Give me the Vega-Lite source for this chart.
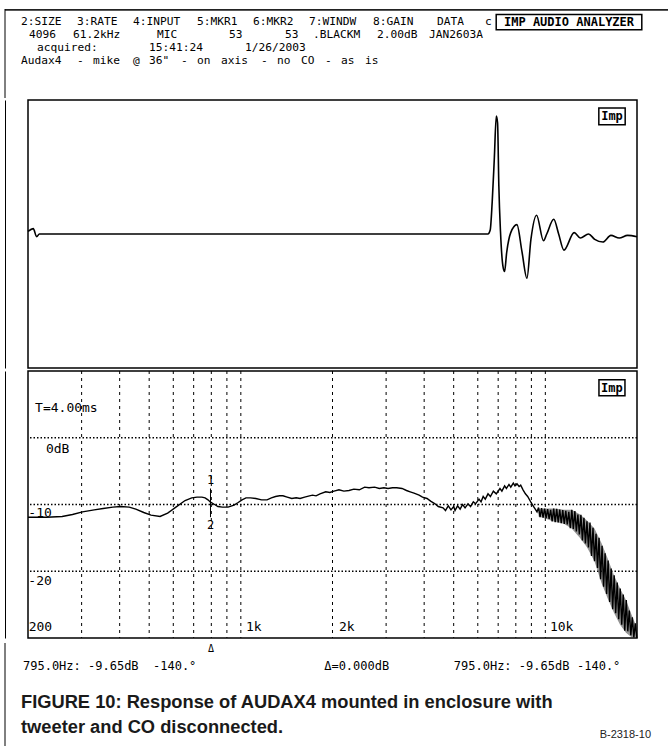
{
  "$schema": "https://vega.github.io/schema/vega-lite/v6.json",
  "background": "white",
  "padding": {"left": 4, "top": 0, "right": 0, "bottom": 0},
  "spacing": 0,
  "config": {
    "view": {"stroke": null},
    "font": "DejaVu Sans Mono"
  },
  "datasets": {
    "header": [
      {"col": 0, "row": 1, "label": "2:SIZE"},
      {"col": 7, "row": 1, "label": "3:RATE"},
      {"col": 14, "row": 1, "label": "4:INPUT"},
      {"col": 22, "row": 1, "label": "5:MKR1"},
      {"col": 29, "row": 1, "label": "6:MKR2"},
      {"col": 36, "row": 1, "label": "7:WINDW"},
      {"col": 44, "row": 1, "label": "8:GAIN"},
      {"col": 52, "row": 1, "label": "DATA"},
      {"col": 58, "row": 1, "label": "c"},
      {"col": 1, "row": 2, "label": "4096"},
      {"col": 6.5, "row": 2, "label": "61.2kHz"},
      {"col": 17, "row": 2, "label": "MIC"},
      {"col": 26, "row": 2, "label": "53"},
      {"col": 33, "row": 2, "label": "53"},
      {"col": 36.5, "row": 2, "label": ".BLACKM"},
      {"col": 44.5, "row": 2, "label": "2.00dB"},
      {"col": 51, "row": 2, "label": "JAN2603A"},
      {"col": 2, "row": 3, "label": "acquired:"},
      {"col": 16, "row": 3, "label": "15:41:24"},
      {"col": 28, "row": 3, "label": "1/26/2003"},
      {"col": 0, "row": 4, "label": "Audax4"},
      {"col": 7, "row": 4, "label": "-"},
      {"col": 9, "row": 4, "label": "mike"},
      {"col": 14, "row": 4, "label": "@"},
      {"col": 16, "row": 4, "label": "36\""},
      {"col": 20, "row": 4, "label": "-"},
      {"col": 22, "row": 4, "label": "on"},
      {"col": 25, "row": 4, "label": "axis"},
      {"col": 30, "row": 4, "label": "-"},
      {"col": 32, "row": 4, "label": "no"},
      {"col": 35, "row": 4, "label": "CO"},
      {"col": 38, "row": 4, "label": "-"},
      {"col": 40, "row": 4, "label": "as"},
      {"col": 43, "row": 4, "label": "is"}
    ],
    "headerBox": [
      {"c1": 59.4, "c2": 77.6, "r1": 0.42, "r2": 1.58, "cc": 68.5, "rc": 1, "label": "IMP AUDIO ANALYZER"}
    ],
    "anchorTop": [{"c1": -2, "c2": 81, "r": -0.611}],
    "frameTop": [{"c1": -2, "c2": 81, "r1": 0.0, "r2": 0.13}],
    "frameLeftHeader": [{"c": -2, "r1": 0, "r2": 6.794}],
    "frameLeftFooter": [{"c": -2, "r1": 0, "r2": 8.667}],
    "impulse": [
      {"t": 0, "v": 0.02}, {"t": 0.58, "v": 0.04}, {"t": 0.95, "v": -0.02}, {"t": 1.25, "v": 0.0},
      {"t": 10, "v": 0.0}, {"t": 20, "v": 0.0}, {"t": 30, "v": 0.0}, {"t": 40, "v": 0.0},
      {"t": 50.6, "v": 0.0}, {"t": 50.85, "v": 0.03}, {"t": 51.07, "v": 0.24}, {"t": 51.3, "v": 0.56},
      {"t": 51.52, "v": 0.88}, {"t": 51.66, "v": 0.83}, {"t": 51.8, "v": 0.36}, {"t": 51.98, "v": 0.02},
      {"t": 52.25, "v": -0.24}, {"t": 52.43, "v": -0.28}, {"t": 52.66, "v": -0.14}, {"t": 53.11, "v": 0.01},
      {"t": 53.79, "v": 0.07}, {"t": 54.34, "v": -0.13}, {"t": 54.89, "v": -0.33}, {"t": 55.33, "v": -0.04},
      {"t": 55.95, "v": 0.14}, {"t": 56.71, "v": -0.05}, {"t": 57.07, "v": 0.0}, {"t": 57.84, "v": 0.11},
      {"t": 58.38, "v": 0.0}, {"t": 58.96, "v": -0.12}, {"t": 60.09, "v": 0.01}, {"t": 60.76, "v": -0.03},
      {"t": 61.67, "v": 0.0}, {"t": 62.35, "v": -0.04}, {"t": 63.25, "v": -0.06}, {"t": 64.13, "v": -0.01},
      {"t": 65.05, "v": -0.03}, {"t": 65.96, "v": -0.01}, {"t": 67.0, "v": -0.02}
    ],
    "impBoxTop": [
      {"x1": 62.8, "x2": 65.7, "y1": 0.941, "y2": 0.815, "xc": 64.25, "yc": 0.878, "label": "Imp"}
    ],
    "impBoxBottom": [
      {"x1": 15000, "x2": 18260, "y1": 8.7, "y2": 6.3, "xc": 16550, "yc": 7.5, "label": "Imp"}
    ],
    "vgrid": [
      {"f": 300}, {"f": 400}, {"f": 500}, {"f": 600}, {"f": 700}, {"f": 800}, {"f": 900},
      {"f": 1000}, {"f": 2000}, {"f": 3000}, {"f": 4000}, {"f": 5000}, {"f": 6000},
      {"f": 7000}, {"f": 8000}, {"f": 9000}, {"f": 10000}
    ],
    "hgrid": [{"db": 0}, {"db": -10}, {"db": -20}],
    "labels": [
      {"f": 211, "db": 4.5, "label": "T=4.00ms"},
      {"f": 229, "db": -1.7, "label": "0dB"},
      {"f": 200.5, "db": -11.3, "label": "-10"},
      {"f": 200.5, "db": -21.4, "label": "-20"},
      {"f": 201, "db": -28.4, "label": "200"},
      {"f": 1040, "db": -28.4, "label": "1k"},
      {"f": 2100, "db": -28.4, "label": "2k"},
      {"f": 10356, "db": -28.4, "label": "10k"}
    ],
    "markers": [
      {"f": 795, "db": -6.4, "label": "1"},
      {"f": 795, "db": -13.1, "label": "2"}
    ],
    "cursor": [{"f": 795, "d1": -7.6, "d2": -11.9}],
    "band": [
      {"f": 9500, "lo": -11.8, "hi": -10.6}, {"f": 10000, "lo": -12.1, "hi": -10.6},
      {"f": 10700, "lo": -12.6, "hi": -10.6}, {"f": 11500, "lo": -12.9, "hi": -10.8},
      {"f": 12200, "lo": -13.6, "hi": -10.8}, {"f": 13000, "lo": -15.0, "hi": -11.5},
      {"f": 13700, "lo": -16.4, "hi": -12.4}, {"f": 14500, "lo": -18.5, "hi": -13.6},
      {"f": 15300, "lo": -21.8, "hi": -15.8}, {"f": 16000, "lo": -24.0, "hi": -18.0},
      {"f": 16800, "lo": -26.2, "hi": -20.6}, {"f": 17600, "lo": -28.0, "hi": -22.6},
      {"f": 18400, "lo": -29.2, "hi": -24.3}, {"f": 19200, "lo": -29.9, "hi": -26.5},
      {"f": 20000, "lo": -30.0, "hi": -28.5}
    ],
    "response": [
      {"f": 200, "db": -11.9}, {"f": 230, "db": -11.9}, {"f": 259, "db": -11.8}, {"f": 280, "db": -11.5},
      {"f": 302, "db": -11.1}, {"f": 330, "db": -10.8}, {"f": 353, "db": -10.6}, {"f": 380, "db": -10.4},
      {"f": 403, "db": -10.3}, {"f": 430, "db": -10.4}, {"f": 452, "db": -10.7}, {"f": 480, "db": -11.2},
      {"f": 507, "db": -11.6}, {"f": 543, "db": -11.8}, {"f": 575, "db": -11.3}, {"f": 612, "db": -10.4},
      {"f": 656, "db": -9.4}, {"f": 690, "db": -9.0}, {"f": 718, "db": -8.9}, {"f": 745, "db": -8.9},
      {"f": 763, "db": -9.0}, {"f": 780, "db": -9.3}, {"f": 795, "db": -9.65}, {"f": 820, "db": -10.0},
      {"f": 841, "db": -10.3}, {"f": 870, "db": -10.4}, {"f": 908, "db": -10.4}, {"f": 950, "db": -10.1},
      {"f": 980, "db": -9.7}, {"f": 1009, "db": -9.3}, {"f": 1040, "db": -9.0}, {"f": 1076, "db": -9.0},
      {"f": 1120, "db": -9.1}, {"f": 1170, "db": -9.3}, {"f": 1219, "db": -9.3}, {"f": 1260, "db": -9.0},
      {"f": 1300, "db": -8.8}, {"f": 1340, "db": -8.7}, {"f": 1375, "db": -8.7}, {"f": 1420, "db": -8.9},
      {"f": 1470, "db": -9.1}, {"f": 1520, "db": -9.0}, {"f": 1565, "db": -9.1}, {"f": 1620, "db": -8.9},
      {"f": 1680, "db": -8.7}, {"f": 1720, "db": -8.6}, {"f": 1766, "db": -8.7}, {"f": 1820, "db": -8.4},
      {"f": 1900, "db": -8.1}, {"f": 1960, "db": -8.2}, {"f": 2023, "db": -8.0}, {"f": 2100, "db": -7.8},
      {"f": 2180, "db": -8.0}, {"f": 2266, "db": -7.9}, {"f": 2350, "db": -7.7}, {"f": 2450, "db": -7.8},
      {"f": 2550, "db": -7.4}, {"f": 2636, "db": -7.5}, {"f": 2750, "db": -7.4}, {"f": 2850, "db": -7.6},
      {"f": 2950, "db": -7.5}, {"f": 3044, "db": -7.6}, {"f": 3150, "db": -7.5}, {"f": 3250, "db": -7.5},
      {"f": 3383, "db": -7.6}, {"f": 3500, "db": -7.9}, {"f": 3600, "db": -8.1}, {"f": 3705, "db": -8.3},
      {"f": 3850, "db": -8.6}, {"f": 3950, "db": -8.9}, {"f": 4087, "db": -9.1}, {"f": 4200, "db": -9.5},
      {"f": 4342, "db": -9.9}, {"f": 4450, "db": -10.3}, {"f": 4614, "db": -10.5}, {"f": 4700, "db": -10.9},
      {"f": 4800, "db": -10.2}, {"f": 4900, "db": -10.8}, {"f": 5000, "db": -10.3}, {"f": 5052, "db": -10.9},
      {"f": 5150, "db": -10.2}, {"f": 5250, "db": -10.7}, {"f": 5350, "db": -10.0}, {"f": 5450, "db": -10.5},
      {"f": 5572, "db": -9.9}, {"f": 5680, "db": -10.3}, {"f": 5800, "db": -9.6}, {"f": 5900, "db": -9.9},
      {"f": 6056, "db": -9.2}, {"f": 6150, "db": -9.6}, {"f": 6250, "db": -8.8}, {"f": 6350, "db": -9.2},
      {"f": 6483, "db": -8.4}, {"f": 6600, "db": -8.8}, {"f": 6750, "db": -8.0}, {"f": 6900, "db": -8.4},
      {"f": 7096, "db": -7.6}, {"f": 7200, "db": -8.0}, {"f": 7350, "db": -7.2}, {"f": 7450, "db": -7.6},
      {"f": 7597, "db": -7.0}, {"f": 7700, "db": -7.4}, {"f": 7850, "db": -6.8}, {"f": 7950, "db": -7.2},
      {"f": 8072, "db": -6.9}, {"f": 8200, "db": -7.3}, {"f": 8300, "db": -7.1}, {"f": 8448, "db": -7.8},
      {"f": 8600, "db": -8.4}, {"f": 8750, "db": -8.8}, {"f": 8975, "db": -9.7}, {"f": 9150, "db": -10.3},
      {"f": 9390, "db": -11.1},
      {"f": 9500, "db": -10.45}, {"f": 9609, "db": -11.9}, {"f": 9720, "db": -10.55}, {"f": 9832, "db": -11.95},
      {"f": 9945, "db": -10.6}, {"f": 10059, "db": -12.05}, {"f": 10175, "db": -10.7}, {"f": 10292, "db": -12.15},
      {"f": 10410, "db": -10.8}, {"f": 10530, "db": -12.55}, {"f": 10651, "db": -10.6}, {"f": 10774, "db": -12.65},
      {"f": 10898, "db": -10.65}, {"f": 11023, "db": -12.7}, {"f": 11150, "db": -10.75}, {"f": 11278, "db": -12.8},
      {"f": 11408, "db": -10.85}, {"f": 11539, "db": -12.9}, {"f": 11672, "db": -10.95}, {"f": 11806, "db": -13.0},
      {"f": 11942, "db": -11.1}, {"f": 12079, "db": -13.55}, {"f": 12218, "db": -10.8}, {"f": 12359, "db": -13.65},
      {"f": 12501, "db": -11.0}, {"f": 12645, "db": -14.05}, {"f": 12790, "db": -11.5}, {"f": 12937, "db": -14.5},
      {"f": 13086, "db": -11.55}, {"f": 13237, "db": -15.4}, {"f": 13389, "db": -12.0}, {"f": 13543, "db": -15.85},
      {"f": 13699, "db": -12.5}, {"f": 13856, "db": -16.45}, {"f": 14016, "db": -12.7}, {"f": 14177, "db": -17.7},
      {"f": 14340, "db": -13.5}, {"f": 14505, "db": -18.5}, {"f": 14672, "db": -14.4}, {"f": 14840, "db": -19.5},
      {"f": 15011, "db": -15.0}, {"f": 15184, "db": -21.2}, {"f": 15358, "db": -16.2}, {"f": 15535, "db": -22.3},
      {"f": 15714, "db": -17.3}, {"f": 15894, "db": -23.4}, {"f": 16077, "db": -18.4}, {"f": 16262, "db": -24.6},
      {"f": 16449, "db": -19.6}, {"f": 16638, "db": -25.7}, {"f": 16830, "db": -20.6}, {"f": 17023, "db": -26.3},
      {"f": 17219, "db": -21.7}, {"f": 17417, "db": -27.2}, {"f": 17617, "db": -22.6}, {"f": 17820, "db": -28.0},
      {"f": 18025, "db": -23.5}, {"f": 18232, "db": -28.9}, {"f": 18442, "db": -24.3}, {"f": 18654, "db": -29.0},
      {"f": 18868, "db": -25.9}, {"f": 19085, "db": -29.6}, {"f": 19305, "db": -26.9}, {"f": 19527, "db": -29.9},
      {"f": 19751, "db": -27.8}, {"f": 19978, "db": -30.0}
    ],
    "footMono": [
      {"col": 0.25, "row": 1.92, "label": "795.0Hz: -9.65dB"},
      {"col": 16.5, "row": 1.92, "label": "-140.°"},
      {"col": 37.9, "row": 1.92, "label": "Δ=0.000dB"},
      {"col": 54.1, "row": 1.92, "label": "795.0Hz: -9.65dB"},
      {"col": 69.5, "row": 1.92, "label": "-140.°"}
    ],
    "footTri": [{"col": 23.75, "row": 0.5, "label": "Δ"}],
    "caption": [
      {"col": 0, "row": 5.42, "label": "FIGURE 10: Response of AUDAX4 mounted in enclosure with"},
      {"col": 0, "row": 7.5, "label": "tweeter and CO disconnected."}
    ],
    "code": [{"col": 78.75, "row": 7.9, "label": "B-2318-10"}]
  },
  "vconcat": [
    {
      "width": 641,
      "height": 97,
      "layer": [
        {
          "data": {"name": "anchorTop"},
          "mark": {"type": "rule", "color": "white", "strokeWidth": 1},
          "encoding": {
            "x": {"field": "c1", "type": "quantitative", "scale": {"domain": [0.875, 81], "nice": false, "zero": false}, "axis": null},
            "x2": {"field": "c2"},
            "y": {"field": "r", "type": "quantitative", "scale": {"domain": [-0.611, 6.794], "nice": false, "zero": false, "reverse": true}, "axis": null}
          }
        },
        {
          "data": {"name": "frameTop"},
          "mark": {"type": "rect", "color": "#222222", "opacity": 1},
          "encoding": {
            "x": {"field": "c1", "type": "quantitative", "scale": {"domain": [0.875, 81], "nice": false, "zero": false}, "axis": null},
            "x2": {"field": "c2"},
            "y": {"field": "r1", "type": "quantitative", "scale": {"domain": [-0.611, 6.794], "nice": false, "zero": false, "reverse": true}, "axis": null},
            "y2": {"field": "r2"}
          }
        },
        {
          "data": {"name": "frameLeftHeader"},
          "mark": {"type": "rule", "color": "black", "strokeWidth": 1},
          "encoding": {
            "x": {"field": "c", "type": "quantitative", "scale": {"domain": [0.875, 81], "nice": false, "zero": false}, "axis": null},
            "y": {"field": "r1", "type": "quantitative", "scale": {"domain": [-0.611, 6.794], "nice": false, "zero": false, "reverse": true}, "axis": null},
            "y2": {"field": "r2"}
          }
        },
        {
          "data": {"name": "header"},
          "mark": {"type": "text", "align": "left", "baseline": "middle", "font": "DejaVu Sans Mono", "fontSize": 11.2, "color": "black"},
          "encoding": {
            "x": {"field": "col", "type": "quantitative", "scale": {"domain": [0.875, 81], "nice": false, "zero": false}, "axis": null},
            "y": {"field": "row", "type": "quantitative", "scale": {"domain": [-0.611, 6.794], "nice": false, "zero": false, "reverse": true}, "axis": null},
            "text": {"field": "label"}
          }
        },
        {
          "data": {"name": "headerBox"},
          "mark": {"type": "rect", "fill": null, "stroke": "black", "strokeWidth": 1.5},
          "encoding": {
            "x": {"field": "c1", "type": "quantitative", "scale": {"domain": [0.875, 81], "nice": false, "zero": false}, "axis": null},
            "x2": {"field": "c2"},
            "y": {"field": "r1", "type": "quantitative", "scale": {"domain": [-0.611, 6.794], "nice": false, "zero": false, "reverse": true}, "axis": null},
            "y2": {"field": "r2"}
          }
        },
        {
          "data": {"name": "headerBox"},
          "mark": {"type": "text", "align": "center", "baseline": "middle", "font": "DejaVu Sans Mono", "fontSize": 12, "fontWeight": "bold", "color": "black"},
          "encoding": {
            "x": {"field": "cc", "type": "quantitative", "scale": {"domain": [0.875, 81], "nice": false, "zero": false}, "axis": null},
            "y": {"field": "rc", "type": "quantitative", "scale": {"domain": [-0.611, 6.794], "nice": false, "zero": false, "reverse": true}, "axis": null},
            "text": {"field": "label"}
          }
        }
      ]
    },
    {
      "width": 609,
      "height": 268,
      "view": {"stroke": "black", "strokeWidth": 1.5},
      "layer": [
        {
          "data": {"name": "impulse"},
          "mark": {"type": "line", "color": "black", "strokeWidth": 1.6, "interpolate": "monotone"},
          "encoding": {
            "x": {"field": "t", "type": "quantitative", "scale": {"domain": [0, 67], "nice": false, "zero": false}, "axis": null},
            "y": {"field": "v", "type": "quantitative", "scale": {"domain": [-1, 1], "nice": false, "zero": false},
                  "axis": {"orient": "left", "offset": 23, "domain": true, "domainColor": "black", "domainWidth": 1, "labels": false, "ticks": false, "grid": false, "title": null, "minExtent": 0, "maxExtent": 0}}
          }
        },
        {
          "data": {"name": "impBoxTop"},
          "mark": {"type": "rect", "fill": "white", "stroke": "black", "strokeWidth": 1.5},
          "encoding": {
            "x": {"field": "x1", "type": "quantitative", "scale": {"domain": [0, 67], "nice": false, "zero": false}, "axis": null},
            "x2": {"field": "x2"},
            "y": {"field": "y1", "type": "quantitative", "scale": {"domain": [-1, 1], "nice": false, "zero": false},
                  "axis": {"orient": "left", "offset": 23, "domain": true, "domainColor": "black", "domainWidth": 1, "labels": false, "ticks": false, "grid": false, "title": null, "minExtent": 0, "maxExtent": 0}},
            "y2": {"field": "y2"}
          }
        },
        {
          "data": {"name": "impBoxTop"},
          "mark": {"type": "text", "align": "center", "baseline": "middle", "font": "DejaVu Sans Mono", "fontSize": 12, "fontWeight": "bold", "color": "black"},
          "encoding": {
            "x": {"field": "xc", "type": "quantitative", "scale": {"domain": [0, 67], "nice": false, "zero": false}, "axis": null},
            "y": {"field": "yc", "type": "quantitative", "scale": {"domain": [-1, 1], "nice": false, "zero": false},
                  "axis": {"orient": "left", "offset": 23, "domain": true, "domainColor": "black", "domainWidth": 1, "labels": false, "ticks": false, "grid": false, "title": null, "minExtent": 0, "maxExtent": 0}},
            "text": {"field": "label"}
          }
        }
      ]
    },
    {
      "width": 609,
      "height": 267,
      "view": {"stroke": "black", "strokeWidth": 1.5},
      "layer": [
        {
          "data": {"name": "vgrid"},
          "mark": {"type": "rule", "color": "black", "strokeWidth": 1, "strokeDash": [3, 4]},
          "encoding": {
            "x": {"field": "f", "type": "quantitative", "scale": {"type": "log", "domain": [200, 20000], "nice": false}, "axis": null}
          }
        },
        {
          "data": {"name": "hgrid"},
          "mark": {"type": "rule", "color": "black", "strokeWidth": 1.3, "strokeDash": [1.5, 2]},
          "encoding": {
            "y": {"field": "db", "type": "quantitative", "scale": {"domain": [-30, 10], "nice": false, "zero": false},
                  "axis": {"orient": "left", "offset": 23, "domain": true, "domainColor": "black", "domainWidth": 1, "labels": false, "ticks": false, "grid": false, "title": null, "minExtent": 0, "maxExtent": 0}}
          }
        },
        {
          "data": {"name": "band"},
          "mark": {"type": "area", "color": "#3a3a3a", "opacity": 0.55},
          "encoding": {
            "x": {"field": "f", "type": "quantitative", "scale": {"type": "log", "domain": [200, 20000], "nice": false}, "axis": null},
            "y": {"field": "lo", "type": "quantitative", "scale": {"domain": [-30, 10], "nice": false, "zero": false},
                  "axis": {"orient": "left", "offset": 23, "domain": true, "domainColor": "black", "domainWidth": 1, "labels": false, "ticks": false, "grid": false, "title": null, "minExtent": 0, "maxExtent": 0}},
            "y2": {"field": "hi"}
          }
        },
        {
          "data": {"name": "response"},
          "mark": {"type": "line", "color": "black", "strokeWidth": 1.4},
          "encoding": {
            "x": {"field": "f", "type": "quantitative", "scale": {"type": "log", "domain": [200, 20000], "nice": false}, "axis": null},
            "y": {"field": "db", "type": "quantitative", "scale": {"domain": [-30, 10], "nice": false, "zero": false},
                  "axis": {"orient": "left", "offset": 23, "domain": true, "domainColor": "black", "domainWidth": 1, "labels": false, "ticks": false, "grid": false, "title": null, "minExtent": 0, "maxExtent": 0}}
          }
        },
        {
          "data": {"name": "cursor"},
          "mark": {"type": "rule", "color": "black", "strokeWidth": 1},
          "encoding": {
            "x": {"field": "f", "type": "quantitative", "scale": {"type": "log", "domain": [200, 20000], "nice": false}, "axis": null},
            "y": {"field": "d1", "type": "quantitative", "scale": {"domain": [-30, 10], "nice": false, "zero": false},
                  "axis": {"orient": "left", "offset": 23, "domain": true, "domainColor": "black", "domainWidth": 1, "labels": false, "ticks": false, "grid": false, "title": null, "minExtent": 0, "maxExtent": 0}},
            "y2": {"field": "d2"}
          }
        },
        {
          "data": {"name": "labels"},
          "mark": {"type": "text", "align": "left", "baseline": "middle", "font": "DejaVu Sans Mono", "fontSize": 13, "color": "black"},
          "encoding": {
            "x": {"field": "f", "type": "quantitative", "scale": {"type": "log", "domain": [200, 20000], "nice": false}, "axis": null},
            "y": {"field": "db", "type": "quantitative", "scale": {"domain": [-30, 10], "nice": false, "zero": false},
                  "axis": {"orient": "left", "offset": 23, "domain": true, "domainColor": "black", "domainWidth": 1, "labels": false, "ticks": false, "grid": false, "title": null, "minExtent": 0, "maxExtent": 0}},
            "text": {"field": "label"}
          }
        },
        {
          "data": {"name": "markers"},
          "mark": {"type": "text", "align": "center", "baseline": "middle", "font": "DejaVu Sans Mono", "fontSize": 12, "color": "black"},
          "encoding": {
            "x": {"field": "f", "type": "quantitative", "scale": {"type": "log", "domain": [200, 20000], "nice": false}, "axis": null},
            "y": {"field": "db", "type": "quantitative", "scale": {"domain": [-30, 10], "nice": false, "zero": false},
                  "axis": {"orient": "left", "offset": 23, "domain": true, "domainColor": "black", "domainWidth": 1, "labels": false, "ticks": false, "grid": false, "title": null, "minExtent": 0, "maxExtent": 0}},
            "text": {"field": "label"}
          }
        },
        {
          "data": {"name": "impBoxBottom"},
          "mark": {"type": "rect", "fill": "white", "stroke": "black", "strokeWidth": 1.5},
          "encoding": {
            "x": {"field": "x1", "type": "quantitative", "scale": {"type": "log", "domain": [200, 20000], "nice": false}, "axis": null},
            "x2": {"field": "x2"},
            "y": {"field": "y1", "type": "quantitative", "scale": {"domain": [-30, 10], "nice": false, "zero": false},
                  "axis": {"orient": "left", "offset": 23, "domain": true, "domainColor": "black", "domainWidth": 1, "labels": false, "ticks": false, "grid": false, "title": null, "minExtent": 0, "maxExtent": 0}},
            "y2": {"field": "y2"}
          }
        },
        {
          "data": {"name": "impBoxBottom"},
          "mark": {"type": "text", "align": "center", "baseline": "middle", "font": "DejaVu Sans Mono", "fontSize": 12, "fontWeight": "bold", "color": "black"},
          "encoding": {
            "x": {"field": "xc", "type": "quantitative", "scale": {"type": "log", "domain": [200, 20000], "nice": false}, "axis": null},
            "y": {"field": "yc", "type": "quantitative", "scale": {"domain": [-30, 10], "nice": false, "zero": false},
                  "axis": {"orient": "left", "offset": 23, "domain": true, "domainColor": "black", "domainWidth": 1, "labels": false, "ticks": false, "grid": false, "title": null, "minExtent": 0, "maxExtent": 0}},
            "text": {"field": "label"}
          }
        }
      ]
    },
    {
      "width": 641,
      "height": 104,
      "layer": [
        {
          "data": {"name": "frameLeftFooter"},
          "mark": {"type": "rule", "color": "black", "strokeWidth": 1},
          "encoding": {
            "x": {"field": "c", "type": "quantitative", "scale": {"domain": [0.875, 81], "nice": false, "zero": false}, "axis": null},
            "y": {"field": "r1", "type": "quantitative", "scale": {"domain": [0, 8.667], "nice": false, "zero": false, "reverse": true}, "axis": null},
            "y2": {"field": "r2"}
          }
        },
        {
          "data": {"name": "footMono"},
          "mark": {"type": "text", "align": "left", "baseline": "middle", "font": "DejaVu Sans Mono", "fontSize": 12, "color": "black"},
          "encoding": {
            "x": {"field": "col", "type": "quantitative", "scale": {"domain": [0.875, 81], "nice": false, "zero": false}, "axis": null},
            "y": {"field": "row", "type": "quantitative", "scale": {"domain": [0, 8.667], "nice": false, "zero": false, "reverse": true}, "axis": null},
            "text": {"field": "label"}
          }
        },
        {
          "data": {"name": "footTri"},
          "mark": {"type": "text", "align": "center", "baseline": "middle", "font": "DejaVu Sans Mono", "fontSize": 10, "color": "black"},
          "encoding": {
            "x": {"field": "col", "type": "quantitative", "scale": {"domain": [0.875, 81], "nice": false, "zero": false}, "axis": null},
            "y": {"field": "row", "type": "quantitative", "scale": {"domain": [0, 8.667], "nice": false, "zero": false, "reverse": true}, "axis": null},
            "text": {"field": "label"}
          }
        },
        {
          "data": {"name": "caption"},
          "mark": {"type": "text", "align": "left", "baseline": "alphabetic", "font": "Liberation Sans", "fontSize": 18.3, "fontWeight": "bold", "color": "#1a1a1a"},
          "encoding": {
            "x": {"field": "col", "type": "quantitative", "scale": {"domain": [0.875, 81], "nice": false, "zero": false}, "axis": null},
            "y": {"field": "row", "type": "quantitative", "scale": {"domain": [0, 8.667], "nice": false, "zero": false, "reverse": true}, "axis": null},
            "text": {"field": "label"}
          }
        },
        {
          "data": {"name": "code"},
          "mark": {"type": "text", "align": "right", "baseline": "alphabetic", "font": "Liberation Sans", "fontSize": 11, "color": "#222222"},
          "encoding": {
            "x": {"field": "col", "type": "quantitative", "scale": {"domain": [0.875, 81], "nice": false, "zero": false}, "axis": null},
            "y": {"field": "row", "type": "quantitative", "scale": {"domain": [0, 8.667], "nice": false, "zero": false, "reverse": true}, "axis": null},
            "text": {"field": "label"}
          }
        }
      ]
    }
  ]
}
